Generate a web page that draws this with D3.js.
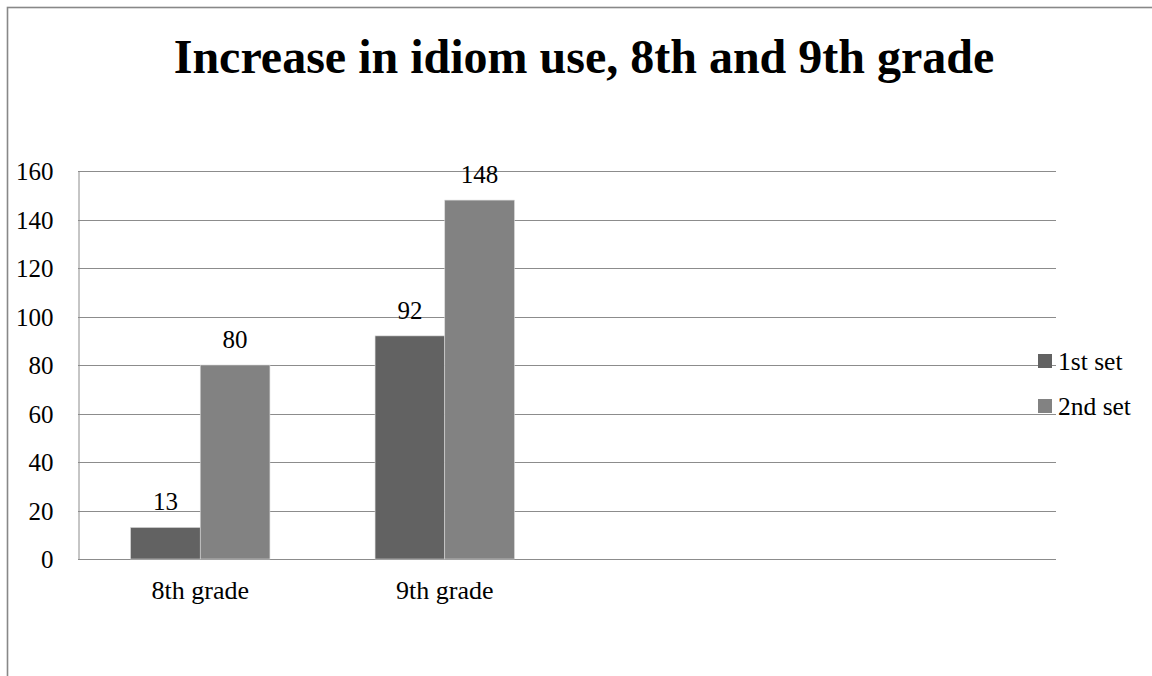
<!DOCTYPE html>
<html>
<head>
<meta charset="utf-8">
<script src="https://cdn.jsdelivr.net/npm/d3@7"></script>
<style>
  html, body { margin: 0; padding: 0; background: #fff; }
  svg { display: block; }
</style>
</head>
<body>
<svg id="chart" width="1152" height="676"></svg>
<script>
// Chart data
const title = "Increase in idiom use, 8th and 9th grade";
const categories = ["8th grade", "9th grade"];
const seriesNames = ["1st set", "2nd set"];
const firstSet = [13, 92];
const secondSet = [80, 148];
const yTicks = [0, 20, 40, 60, 80, 100, 120, 140, 160];
const slotCount = 4; // the category axis reserves room for four groups
const colors = ["#626262", "#828282"];

const svg = d3.select("#chart");
const font = "'Liberation Serif', 'Times New Roman', serif";

// Outer frame of the chart object (extends past the right and bottom edges)
svg.append("rect")
  .attr("x", 7.5).attr("y", 7.5)
  .attr("width", 1152).attr("height", 700)
  .attr("fill", "#fff")
  .attr("stroke", "#888").attr("stroke-width", 1.6);

// Title
svg.append("text")
  .attr("x", 584).attr("y", 73)
  .attr("text-anchor", "middle")
  .attr("font-family", font)
  .attr("font-weight", "bold")
  .attr("font-size", 48)
  .attr("fill", "#000")
  .text(title);

const plot = { left: 78, right: 1056, top: 171, bottom: 559 };

const y = d3.scaleLinear()
  .domain([0, 160])
  .range([plot.bottom, plot.top]);

const slots = categories.concat(d3.range(slotCount - categories.length).map(i => "__empty" + i));
const x = d3.scaleBand()
  .domain(slots)
  .range([plot.left, plot.right])
  .paddingInner(0.43)
  .paddingOuter(0.215);

const xSeries = d3.scaleBand()
  .domain(seriesNames)
  .range([0, x.bandwidth()]);

// Horizontal gridlines
svg.append("g")
  .selectAll("line")
  .data(yTicks)
  .join("line")
  .attr("x1", plot.left).attr("x2", plot.right)
  .attr("y1", d => Math.round(y(d)) + 0.5)
  .attr("y2", d => Math.round(y(d)) + 0.5)
  .attr("stroke", "#8c8c8c").attr("stroke-width", 1);

// Y axis
const yAxis = svg.append("g")
  .attr("font-family", font)
  .attr("transform", `translate(${plot.left + 0.5},0)`)
  .call(d3.axisLeft(y).tickValues(yTicks).tickSize(0).tickPadding(25).tickFormat(d3.format("d")));
yAxis.attr("font-family", font);
yAxis.select(".domain").attr("stroke", "#8c8c8c");
yAxis.selectAll("text")
  .attr("font-family", font).attr("font-size", 25).attr("fill", "#000")
  .attr("dy", "0.34em");

// X axis labels
const xAxis = svg.append("g")
  .attr("transform", `translate(0,${plot.bottom})`)
  .call(d3.axisBottom(x).tickSize(0).tickPadding(0)
    .tickFormat(d => categories.includes(d) ? d : ""));
xAxis.attr("font-family", font);
xAxis.select(".domain").remove();
xAxis.selectAll("text")
  .attr("font-family", font).attr("font-size", 26).attr("fill", "#000")
  .attr("dy", null).attr("y", 40);

// Bars
const rows = categories.map((c, i) => ({ category: c, values: [firstSet[i], secondSet[i]] }));
const groups = svg.append("g")
  .selectAll("g")
  .data(rows)
  .join("g")
  .attr("transform", d => `translate(${x(d.category)},0)`);

groups.selectAll("rect")
  .data(d => d.values.map((v, j) => ({ series: seriesNames[j], value: v, idx: j })))
  .join("rect")
  .attr("x", d => xSeries(d.series))
  .attr("width", xSeries.bandwidth())
  .attr("y", d => y(d.value))
  .attr("height", d => y(0) - y(d.value))
  .attr("fill", d => colors[d.idx])
  .attr("stroke", "#d8d8d8").attr("stroke-width", 0.6);

// Value labels
groups.selectAll("text")
  .data(d => d.values.map((v, j) => ({ series: seriesNames[j], value: v })))
  .join("text")
  .attr("x", d => xSeries(d.series) + xSeries.bandwidth() / 2)
  .attr("y", d => y(d.value) - 17)
  .attr("text-anchor", "middle")
  .attr("font-family", font).attr("font-size", 25).attr("fill", "#000")
  .text(d => d.value);

// Legend
const legend = svg.append("g")
  .selectAll("g")
  .data(seriesNames)
  .join("g")
  .attr("transform", (d, i) => `translate(1038,${354 + i * 45})`);
legend.append("rect")
  .attr("width", 14).attr("height", 14)
  .attr("fill", (d, i) => colors[i]);
legend.append("text")
  .attr("x", 20).attr("y", 16)
  .attr("font-family", font).attr("font-size", 25.5).attr("fill", "#000")
  .text(d => d);
</script>
</body>
</html>
